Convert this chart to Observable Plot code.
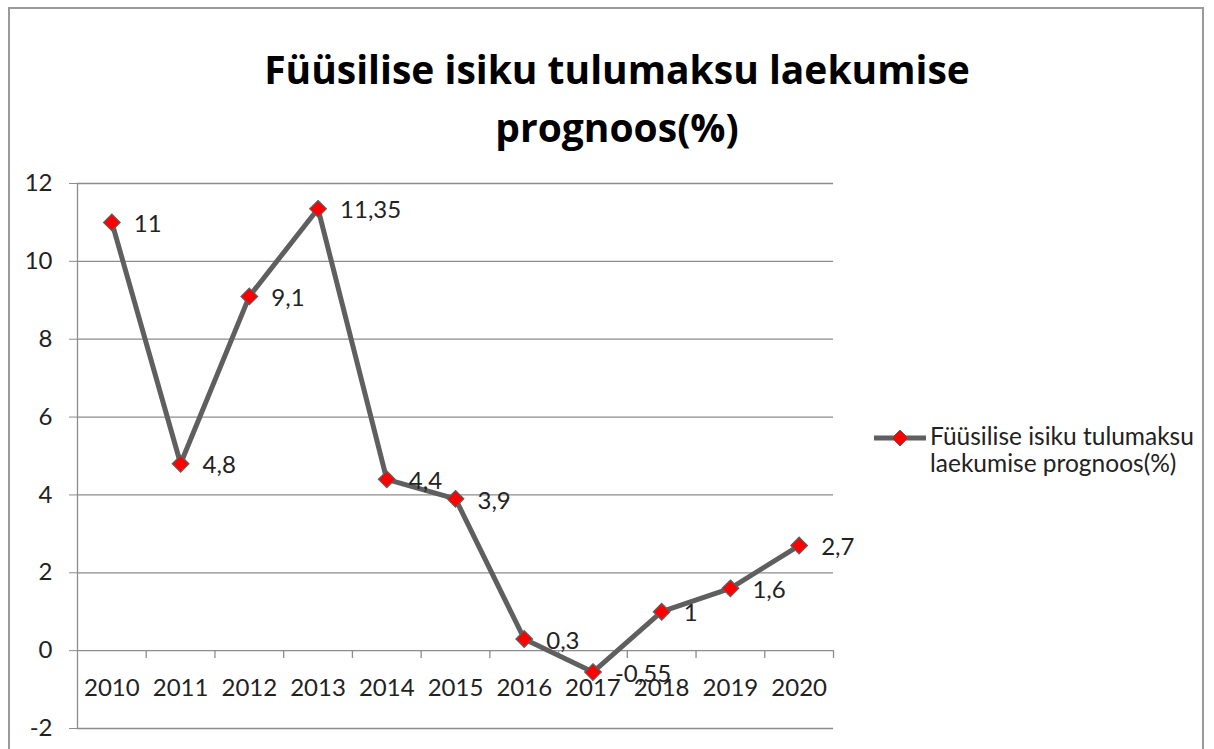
<!DOCTYPE html>
<html>
<head>
<meta charset="utf-8">
<script src="https://cdn.jsdelivr.net/npm/d3@7"></script>
<script src="https://cdn.jsdelivr.net/npm/@observablehq/plot@0.6"></script>
<style>
  html, body { margin: 0; padding: 0; background: #fff; }
  #wrap { position: relative; width: 1214px; height: 749px; overflow: hidden; font-family: Lato, sans-serif; }
  #frame { position: absolute; left: 8px; top: 7px; width: 1196px; height: 800px; border: 2px solid #9a9a9a; box-sizing: border-box; }
  #title { position: absolute; left: 0; width: 1234px; top: 40px; text-align: center; font-family: "Open Sans", sans-serif; font-weight: bold; font-size: 39px; line-height: 58px; color: #000; }
  #legend { position: absolute; left: 873px; top: 422px; display: flex; align-items: flex-start; font-size: 24.5px; line-height: 27px; color: #222; }
  #chart { position: absolute; left: 0; top: 0; }
</style>
</head>
<body>
<div id="wrap">
  <div id="frame"></div>
  <div id="chart"></div>
  <div id="title">Füüsilise isiku tulumaksu laekumise<br>prognoos(%)</div>
  <div id="legend">
    <svg width="57" height="30" style="margin-top:1px"><line x1="1" y1="15" x2="53" y2="15" stroke="#5f5f5f" stroke-width="5"/><path d="M27,7 L35,15 L27,23 L19,15 Z" fill="#ff0000" stroke="#5f5f5f" stroke-width="1"/></svg>
    <div>Füüsilise isiku tulumaksu<br>laekumise prognoos(%)</div>
  </div>
</div>
<script>
const years = ["2010","2011","2012","2013","2014","2015","2016","2017","2018","2019","2020"];
const values = [11, 4.8, 9.1, 11.35, 4.4, 3.9, 0.3, -0.55, 1, 1.6, 2.7];
const yTicks = [-2, 0, 2, 4, 6, 8, 10, 12];

const data = years.map((y, i) => ({i, year: y, value: values[i], label: String(values[i]).replace(".", ",")}));
const bounds = d3.range(years.length + 1).map(k => k - 0.5);

const chart = Plot.plot({
  width: 1214,
  height: 749,
  marginLeft: 77,
  marginRight: 381,
  marginTop: 183,
  marginBottom: 21,
  style: {fontFamily: "Lato, sans-serif", fontSize: "24px", color: "#222", background: "transparent"},
  x: {domain: [-0.5, 10.5], axis: null},
  y: {domain: [-2, 12], ticks: yTicks, tickSize: 8, tickPadding: 16, label: null, tickFormat: d => String(d)},
  marks: [
    Plot.ruleY(yTicks, {stroke: "#8c8c8c", strokeWidth: 1.3, strokeOpacity: 1}),
    Plot.ruleX([-0.5], {stroke: "#8c8c8c", strokeWidth: 1.3}),
    Plot.ruleX(bounds.slice(1), {x: d => d, y1: 0, y2: -0.2, stroke: "#8c8c8c", strokeWidth: 1.3}),
    Plot.axisY({ticks: yTicks, tickSize: 8, tickPadding: 17, stroke: "#8c8c8c", fontSize: 24, tickFormat: d => String(d)}),
    Plot.text(data, {x: "i", y: 0, text: "year", dy: 38, fontSize: 24, fill: "#222"}),
    Plot.line(data, {x: "i", y: "value", stroke: "#5f5f5f", strokeWidth: 5, strokeLinejoin: "round"}),
    Plot.dot(data, {x: "i", y: "value", symbol: "diamond2", r: 7.5, fill: "#ff0000", stroke: "#5f5f5f", strokeWidth: 1.2}),
    Plot.text(data, {x: "i", y: "value", text: "label", dx: 22, dy: 2, textAnchor: "start", fontSize: 24, fill: "#222"})
  ]
});
document.getElementById("chart").appendChild(chart);
</script>
</body>
</html>
